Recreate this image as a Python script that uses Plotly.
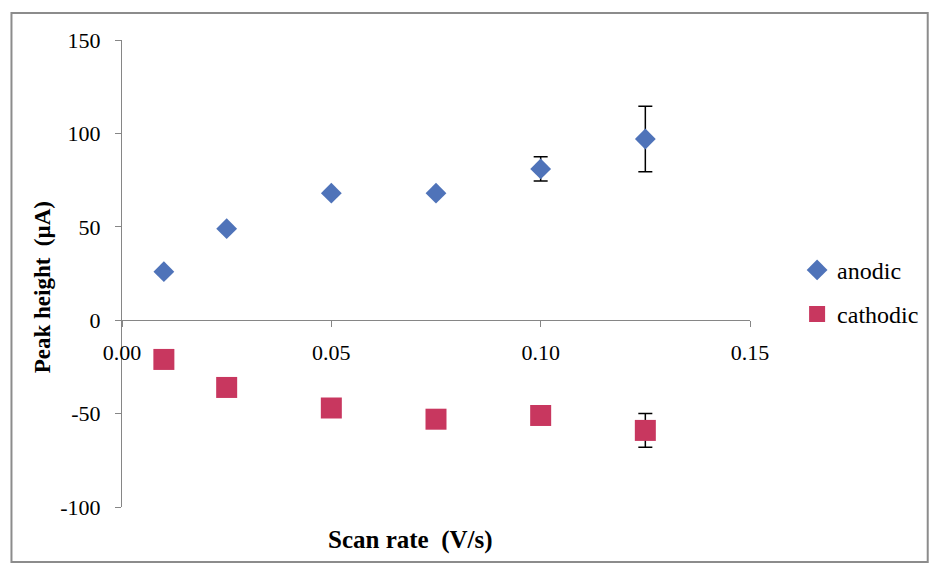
import plotly.graph_objects as go

# Scan rate (V/s)
scan_rate = [0.01, 0.025, 0.05, 0.075, 0.10, 0.125]

# Anodic peak heights (µA) and their error
anodic = [26, 49, 68, 68, 81, 97]
anodic_err = [0, 0, 0, 0, 6.5, 17.5]

# Cathodic peak heights (µA) and their error
cathodic = [-21, -36, -47, -53, -51, -59]
cathodic_err = [0, 0, 0, 0, 0, 9]

x_ticks = [0.00, 0.05, 0.10, 0.15]
y_ticks = [-100, -50, 0, 50, 100, 150]

FONT = "Times New Roman, Liberation Serif, DejaVu Serif, serif"
AXIS_GREY = "#868686"

fig = go.Figure()

fig.add_trace(go.Scatter(
    x=scan_rate, y=anodic, mode="markers", name="anodic",
    legendgroup="a",
    marker=dict(symbol="diamond", size=16, color="#4F73B9",
                line=dict(width=0)),
    error_y=dict(type="data", array=anodic_err, visible=True,
                 color="black", thickness=1.5, width=7),
))

fig.add_trace(go.Scatter(
    x=scan_rate, y=cathodic, mode="markers", name="cathodic",
    legendgroup="c",
    marker=dict(symbol="square", size=21, color="#C8375F",
                line=dict(width=0)),
    error_y=dict(type="data", array=cathodic_err, visible=True,
                 color="black", thickness=1.5, width=7),
))

fig.update_layout(
    width=931, height=566,
    margin=dict(l=122, r=181, t=40, b=59, autoexpand=False),
    paper_bgcolor="white", plot_bgcolor="white",
    font=dict(family=FONT, size=20, color="black"),
    showlegend=True,
    legend=dict(
        x=1.075, y=0.555, xanchor="left", yanchor="top",
        font=dict(family=FONT, size=24, color="black"),
        bgcolor="rgba(0,0,0,0)", traceorder="grouped",
        tracegroupgap=10, itemwidth=30,
    ),
    xaxis=dict(
        range=[0, 0.15], tickvals=x_ticks,
        ticktext=[f"{v:.2f}" for v in x_ticks],
        anchor="free", position=100 / 250,
        showline=True, linecolor=AXIS_GREY, linewidth=1.2,
        ticks="outside", ticklen=6, tickcolor=AXIS_GREY,
        showgrid=False, zeroline=False,
        tickfont=dict(family=FONT, size=22),
        ticklabelstandoff=6,
    ),
    yaxis=dict(
        range=[-100, 150], tickvals=y_ticks,
        ticktext=[str(v) for v in y_ticks],
        showline=True, linecolor=AXIS_GREY, linewidth=1.2,
        ticks="outside", ticklen=6, tickcolor=AXIS_GREY,
        showgrid=False, zeroline=False,
        tickfont=dict(family=FONT, size=22),
        ticklabelstandoff=10,
    ),
    annotations=[
        dict(text="<b>Peak height  (µA)</b>", xref="paper", yref="paper",
             x=-0.127, y=0.471, xanchor="center", yanchor="middle",
             textangle=-90, showarrow=False,
             font=dict(family=FONT, size=23)),
        dict(text="<b>Scan rate  (V/s)</b>", xref="paper", yref="paper",
             x=0.459, y=-0.071, xanchor="center", yanchor="middle",
             showarrow=False,
             font=dict(family=FONT, size=25)),
    ],
    shapes=[
        dict(type="rect", xref="paper", yref="paper",
             x0=-0.176, x1=1.283, y0=-0.118, y1=1.058,
             line=dict(color="#8C8C8C", width=2), fillcolor="rgba(0,0,0,0)"),
    ],
)

fig.write_html("out.html")
